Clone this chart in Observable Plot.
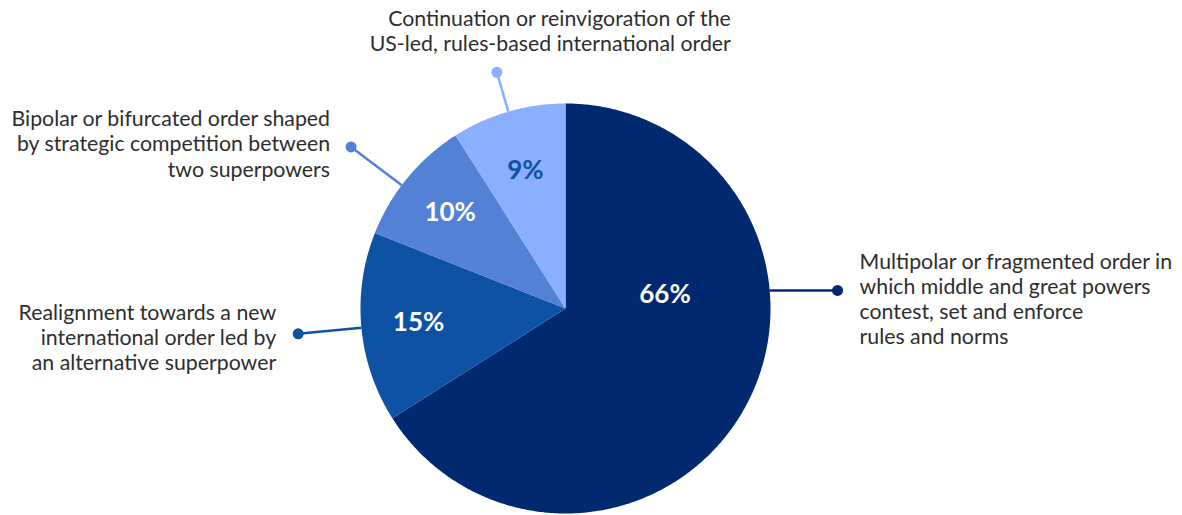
<!DOCTYPE html>
<html>
<head>
<meta charset="utf-8">
<script src="https://cdn.jsdelivr.net/npm/d3@7"></script>
<script src="https://cdn.jsdelivr.net/npm/@observablehq/plot@0.6"></script>
<style>
  html, body { margin: 0; padding: 0; background: #fff; }
  #chart svg { display: block; }
</style>
</head>
<body>
<div id="chart"></div>
<script>
// ---- data ----
const categories = [
  "Multipolar or fragmented order in\nwhich middle and great powers\ncontest, set and enforce\nrules and norms",
  "Realignment towards a new\ninternational order led by\nan alternative superpower",
  "Bipolar or bifurcated order shaped\nby strategic competition between\ntwo superpowers",
  "Continuation or reinvigoration of the\nUS-led, rules-based international order"
];
const values = [66, 15, 10, 9];
const pctLabels = ["66%", "15%", "10%", "9%"];
const palette = ["#00296f", "#0e52a4", "#5281d6", "#8caefe"];

// ---- geometry (pixels) ----
const W = 1182, H = 515, R = 205, CX = 565, CY = 308;
const deg = Math.PI / 180;
const polar = (a, r) => [r * Math.sin(a), r * Math.cos(a)]; // clockwise from top, y up

const total = d3.sum(values);
let acc = 0;
const slices = values.map((v, i) => {
  const a0 = acc / total * 2 * Math.PI;
  acc += v;
  const a1 = acc / total * 2 * Math.PI;
  return {i, cat: categories[i], v, a0, a1, mid: (a0 + a1) / 2};
});

// label layout (style, kept out of the data arrays)
const layout = [
  {labelA: 82 * deg, labelR: 0.49, leadA: 86.2 * deg, leadR: 1.33, horizontal: true, anchor: "start", dx: 22, dy: 8},
  {labelA: null, labelR: 0.72, leadA: null, leadR: 1.31, anchor: "end", dx: -22, dy: 3},
  {labelA: null, labelR: 0.73, leadA: -53 * deg, leadR: 1.31, anchor: "end", dx: -21, dy: -3.5},
  {labelA: null, labelR: 0.70, leadA: null, leadR: 1.20, anchor: "end", dx: 234, dy: -42}
];

// slice polygons
const poly = [];
for (const s of slices) {
  poly.push({cat: s.cat, x: 0, y: 0});
  const n = Math.max(2, Math.ceil((s.a1 - s.a0) / (0.5 * deg)));
  for (let k = 0; k <= n; k++) {
    const a = s.a0 + (s.a1 - s.a0) * k / n;
    const [x, y] = polar(a, 1);
    poly.push({cat: s.cat, x, y});
  }
  poly.push({cat: s.cat, x: 0, y: 0});
}

const labels = slices.map((s, i) => {
  const L = layout[i];
  const [x, y] = polar(L.labelA ?? s.mid, L.labelR);
  return {cat: s.cat, x, y, text: pctLabels[i], dark: i === 3};
});

const leaders = slices.map((s, i) => {
  const L = layout[i];
  const [x2, y2] = polar(L.leadA ?? s.mid, L.leadR);
  let x1, y1;
  if (L.horizontal) { y1 = y2; x1 = Math.sqrt(1 - y2 * y2) * Math.sign(x2); }
  else { [x1, y1] = polar(L.leadA ?? s.mid, 1); }
  return {cat: s.cat, x1, y1, x2, y2, anchor: L.anchor, dx: L.dx, dy: L.dy};
});

const font = "Lato, 'Open Sans', sans-serif";

const chart = Plot.plot({
  width: W,
  height: H,
  margin: 0,
  style: {fontFamily: font, background: "#fff"},
  x: {domain: [-CX / R, (W - CX) / R], range: [0, W], axis: null},
  y: {domain: [-(H - CY) / R, CY / R], range: [H, 0], axis: null},
  color: {domain: categories, range: palette},
  marks: [
    Plot.line(poly, {x: "x", y: "y", z: "cat", fill: "cat", stroke: "none", curve: "linear"}),
    Plot.link(leaders, {x1: "x1", y1: "y1", x2: "x2", y2: "y2", stroke: "cat", strokeWidth: 2.5}),
    Plot.dot(leaders, {x: "x2", y: "y2", fill: "cat", r: 5.5, stroke: "none"}),
    Plot.text(labels, {x: "x", y: "y", text: "text", fill: d => d.dark ? "#0e52a4" : "#ffffff",
      fontSize: 26, fontWeight: 700, fontFamily: font}),
    ...leaders.map(d => Plot.text([d], {x: "x2", y: "y2", text: "cat", textAnchor: d.anchor,
      lineAnchor: "middle", lineHeight: 1.185, dx: d.dx, dy: d.dy, fill: "#2e2e2e",
      fontSize: 21.3, fontFamily: font}))
  ]
});
document.getElementById("chart").append(chart);
</script>
</body>
</html>
